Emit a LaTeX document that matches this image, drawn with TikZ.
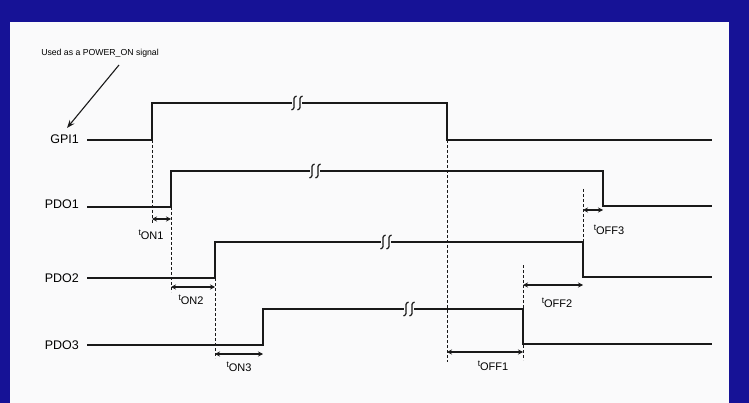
\documentclass[tikz,border=0pt]{standalone}
\usepackage{fontspec}
\setmainfont{Liberation Sans}
\usetikzlibrary{arrows.meta}
\definecolor{frameblue}{RGB}{22,18,150}
\definecolor{paper}{RGB}{250,250,251}
\definecolor{ink}{RGB}{25,25,25}
\newcommand{\tlab}[1]{{\fontsize{8.5}{8}\selectfont t}\raisebox{-4pt}{\fontsize{11}{11}\selectfont #1}}
\newcommand{\brk}[2]{%
  \draw[ink,line width=1.2pt] (#1+2.5,#2-7) .. controls (#1-4,#2-5) and (#1+4,#2+5) .. (#1-2.5,#2+7);
  \draw[ink,line width=1.2pt] (#1+8.5,#2-7) .. controls (#1+2,#2-5) and (#1+10,#2+5) .. (#1+3.5,#2+7);}
\begin{document}
\begin{tikzpicture}[x=1pt,y=-1pt,
  sig/.style={ink,line width=1.2pt},
  dsh/.style={ink,line width=0.7pt,dash pattern=on 3pt off 2pt},
  dim/.style={ink,line width=1.2pt,{Stealth[length=5pt,width=5pt]}-{Stealth[length=5pt,width=5pt]}},
  sname/.style={anchor=east,font=\fontsize{12.5}{13}\selectfont,inner sep=0pt},
  tl/.style={inner sep=0pt}]
\useasboundingbox (0,0) rectangle (749,403);
\fill[frameblue] (0,0) rectangle (749,403);
\fill[paper] (10,22) rectangle (729,403);

% labels
\node[font=\fontsize{8.7}{10}\selectfont,inner sep=0pt] (note) at (100,53) {Used as a POWER\_ON signal};
\node[sname] (gpi) at (79,139) {GPI1};
\node[sname] (pdo1) at (79,204) {PDO1};
\node[sname] (pdo2) at (79,278) {PDO2};
\node[sname] (pdo3) at (79,345) {PDO3};
\coordinate (arrS) at (119,65);
\coordinate (arrE) at (67,128);
\draw[ink,line width=1.1pt,-{Stealth[length=8pt,width=6pt]}] (arrS) -- (arrE);

% GPI1
\coordinate (g0) at (87,140); \coordinate (g1) at (152,140); \coordinate (g2) at (152,103);
\coordinate (gb1) at (292,103); \coordinate (gb2) at (302,103);
\coordinate (g3) at (447,103); \coordinate (g4) at (447,140); \coordinate (g5) at (712,140);
\draw[sig] (g0) -- (g1) -- (g2) -- (gb1);
\draw[sig] (gb2) -- (g3) -- (g4) -- (g5);
\brk{294}{103}

% PDO1
\coordinate (p10) at (87,207); \coordinate (p11) at (171,207); \coordinate (p12) at (171,171);
\coordinate (p1b1) at (310,171); \coordinate (p1b2) at (320,171);
\coordinate (p13) at (603,171); \coordinate (p14) at (603,206); \coordinate (p15) at (712,206);
\draw[sig] (p10) -- (p11) -- (p12) -- (p1b1);
\draw[sig] (p1b2) -- (p13) -- (p14) -- (p15);
\brk{312}{171}

% PDO2
\coordinate (p20) at (87,278); \coordinate (p21) at (215,278); \coordinate (p22) at (215,242);
\coordinate (p2b1) at (381,242); \coordinate (p2b2) at (391,242);
\coordinate (p23) at (583,242); \coordinate (p24) at (583,277); \coordinate (p25) at (712,277);
\draw[sig] (p20) -- (p21) -- (p22) -- (p2b1);
\draw[sig] (p2b2) -- (p23) -- (p24) -- (p25);
\brk{383}{242}

% PDO3
\coordinate (p30) at (87,345); \coordinate (p31) at (263,345); \coordinate (p32) at (263,309);
\coordinate (p3b1) at (404,309); \coordinate (p3b2) at (414,309);
\coordinate (p33) at (523,309); \coordinate (p34) at (523,344); \coordinate (p35) at (712,344);
\draw[sig] (p30) -- (p31) -- (p32) -- (p3b1);
\draw[sig] (p3b2) -- (p33) -- (p34) -- (p35);
\brk{406}{309}

% dashed guides
\coordinate (d1e) at (152,224);
\coordinate (d2e) at (171,292);
\coordinate (d3e) at (215,358);
\coordinate (d4e) at (447,362);
\coordinate (d5s) at (523,265); \coordinate (d5e) at (523,360);
\coordinate (d6s) at (583,189);
\draw[dsh] (g1) -- (d1e);
\draw[dsh] (p11) -- (d2e);
\draw[dsh] (p21) -- (d3e);
\draw[dsh] (g4) -- (d4e);
\draw[dsh] (d5s) -- (d5e);
\draw[dsh] (d6s) -- (p23);

% timing arrows
\coordinate (a1l) at (152,219); \coordinate (a1r) at (171,219);
\coordinate (a2l) at (171,287); \coordinate (a2r) at (215,287);
\coordinate (a3l) at (215,354); \coordinate (a3r) at (263,354);
\coordinate (b1l) at (447,352); \coordinate (b1r) at (523,352);
\coordinate (b2l) at (523,285); \coordinate (b2r) at (583,285);
\coordinate (b3l) at (583,210); \coordinate (b3r) at (603,210);
\draw[dim] (a1l) -- (a1r);
\draw[dim] (a2l) -- (a2r);
\draw[dim] (a3l) -- (a3r);
\draw[dim] (b1l) -- (b1r);
\draw[dim] (b2l) -- (b2r);
\draw[dim] (b3l) -- (b3r);

\node[tl] (ton1) at (151,234.5) {\tlab{ON1}};
\node[tl] (ton2) at (191,300) {\tlab{ON2}};
\node[tl] (ton3) at (239,367) {\tlab{ON3}};
\node[tl] (toff1) at (493,366) {\tlab{OFF1}};
\node[tl] (toff2) at (557,302.5) {\tlab{OFF2}};
\node[tl] (toff3) at (609,229.5) {\tlab{OFF3}};
\end{tikzpicture}
\end{document}
